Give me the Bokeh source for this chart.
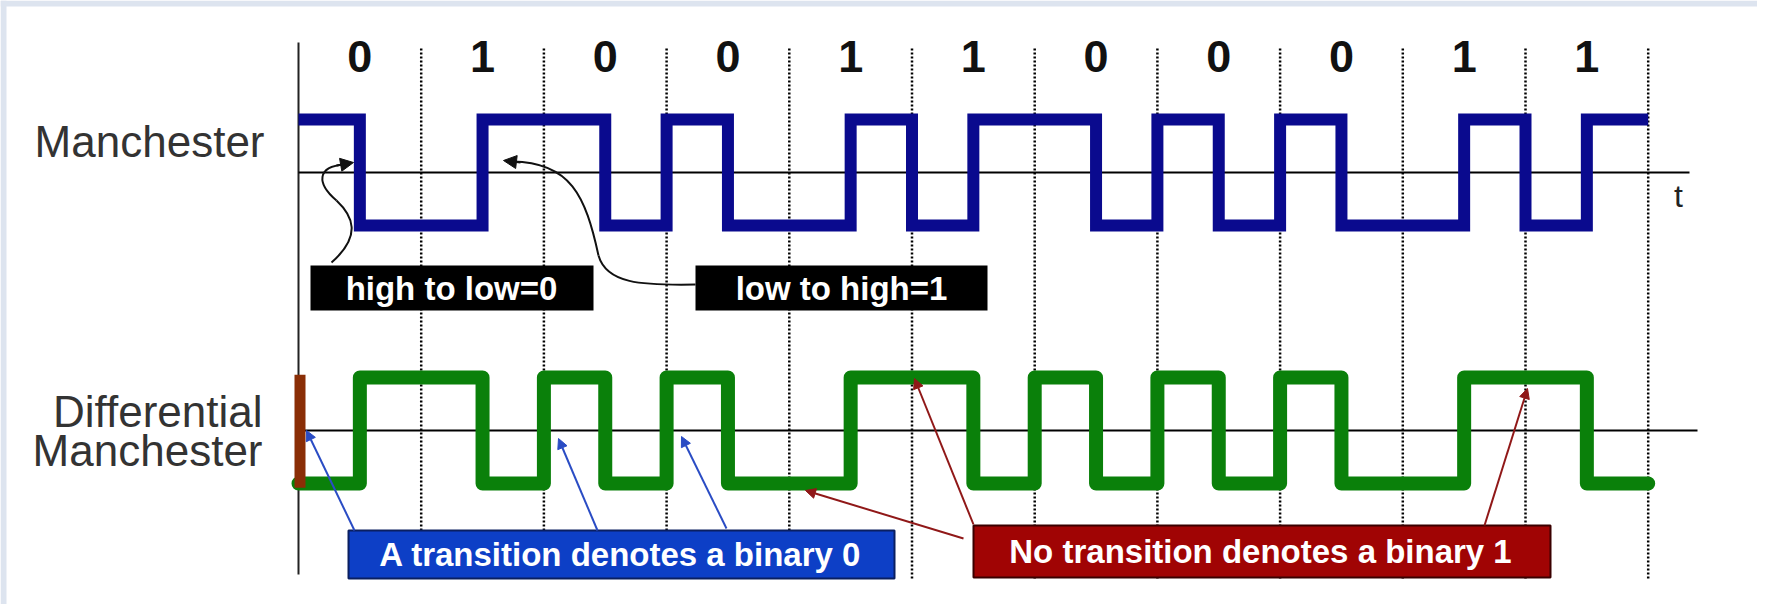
from bokeh.plotting import figure
from bokeh.models import Range1d, Arrow, NormalHead
from bokeh.core.properties import value
from bokeh.embed import file_html
from bokeh.resources import INLINE

# ---------------- data ----------------
bits = [0, 1, 0, 0, 1, 1, 0, 0, 0, 1, 1]
bit_labels = ["0", "1", "0", "0", "1", "1", "0", "0", "0", "1", "1"]
bit_centers = [0.5, 1.5, 2.5, 3.5, 4.5, 5.5, 6.5, 7.5, 8.5, 9.5, 10.5]
bit_boundaries = [1, 2, 3, 4, 5, 6, 7, 8, 9, 10, 11]
half_bit_times = [0, 0.5, 1, 1.5, 2, 2.5, 3, 3.5, 4, 4.5, 5, 5.5, 6, 6.5,
                  7, 7.5, 8, 8.5, 9, 9.5, 10, 10.5, 11]
# signal level in each half bit (1 = high, 0 = low)
manchester_levels = [1, 0, 0, 1, 1, 0, 1, 0, 0, 1, 0, 1,
                     1, 0, 1, 0, 1, 0, 0, 1, 0, 1]
diff_manchester_levels = [0, 1, 1, 0, 1, 0, 1, 0, 0, 1, 1, 0,
                          1, 0, 1, 0, 1, 0, 0, 1, 1, 0]

# ---------------- layout helpers (picture pixels -> data units) ----------------
X0, XU = 298.0, 122.7      # x of t=0 and pixels per bit
Y0, YU = 430.0, 53.0       # y of differential midline and pixels per level unit
def X(px):
    return (px - X0) / XU
def Y(py):
    return (Y0 - py) / YU

MAN_C = Y(172)   # Manchester midline
DIF_C = 0.0      # Differential Manchester midline
AMP = 1.0

FONT = value("Liberation Sans")
W, H = 1757, 604

p = figure(width=W, height=H, output_backend="svg", toolbar_location=None,
           x_range=Range1d(X(0), X(W)), y_range=Range1d(Y(H), Y(0)),
           min_border=0, background_fill_color="white", border_fill_color="white")
p.axis.visible = False
p.grid.visible = False
p.outline_line_color = None

# light frame around the slide
p.quad(left=[X(0), X(0)], right=[X(6), X(W)], top=[Y(0), Y(0)], bottom=[Y(H), Y(6)],
       fill_color="#dde4ef", line_color=None)

# dotted bit boundaries
p.segment(x0=bit_boundaries, y0=[Y(48)] * len(bit_boundaries),
          x1=bit_boundaries, y1=[Y(580)] * len(bit_boundaries),
          line_color="black", line_width=2.5, line_dash="2 2")

# vertical time origin
p.segment(x0=[0], y0=[Y(42)], x1=[0], y1=[Y(574)], line_color="#222222", line_width=2)

# midlines
p.segment(x0=[0, 0], y0=[MAN_C, DIF_C], x1=[X(1689), X(1697)], y1=[MAN_C, DIF_C],
          line_color="black", line_width=2)
p.text(x=[X(1678)], y=[Y(195)], text=["t"], text_font=FONT, text_font_size=value("32px"),
       text_align="center", text_baseline="middle", text_color="#222222")

# signals
man_y = [MAN_C + (2 * l - 1) * AMP for l in manchester_levels + manchester_levels[-1:]]
dif_y = [DIF_C + (2 * l - 1) * AMP for l in diff_manchester_levels + diff_manchester_levels[-1:]]
p.step(x=half_bit_times, y=man_y, mode="after", line_color="#0a0a8e", line_width=12,
       line_join="miter", line_cap="butt")
p.step(x=half_bit_times, y=dif_y, mode="after", line_color="#0a800a", line_width=14,
       line_join="round", line_cap="round")

# initial transition marker for differential manchester
p.quad(left=[X(294)], right=[X(305)], top=[DIF_C + 1.05], bottom=[DIF_C - 1.08],
       fill_color="#8a2e06", line_color=None)

# bit labels
p.text(x=bit_centers, y=[Y(56)] * len(bit_centers), text=bit_labels, text_font=FONT,
       text_font_size=value("45px"), text_font_style="bold", text_align="center",
       text_baseline="middle", text_color="#111111")

# row labels
p.text(x=[X(264)], y=[Y(141)], text=["Manchester"], text_font=FONT,
       text_font_size=value("44px"), text_align="right", text_baseline="middle",
       text_color="#333333")
p.text(x=[X(262), X(262)], y=[Y(411), Y(450)], text=["Differential", "Manchester"],
       text_font=FONT, text_font_size=value("44px"), text_align="right",
       text_baseline="middle", text_color="#333333")

# curved black callout arrows
p.bezier(x0=[X(331), X(336)], y0=[Y(262), Y(200)],
         x1=[X(336), X(344)], y1=[Y(200), Y(164)],
         cx0=[X(362), X(316)], cy0=[Y(235), Y(183)],
         cx1=[X(352), X(316)], cy1=[Y(215), Y(166)],
         line_color="#111111", line_width=2)
p.add_layout(Arrow(end=NormalHead(size=13, fill_color="#111111", line_color="#111111"),
                   x_start=X(336), y_start=Y(165), x_end=X(353), y_end=Y(162),
                   line_color="#111111", line_width=2))
p.bezier(x0=[X(695), X(598)], y0=[Y(284), Y(255)],
         x1=[X(598), X(512)], y1=[Y(255), Y(161)],
         cx0=[X(640), X(585)], cy0=[Y(285), Y(195)],
         cx1=[X(606), X(570)], cy1=[Y(283), Y(162)],
         line_color="#111111", line_width=2)
p.add_layout(Arrow(end=NormalHead(size=13, fill_color="#111111", line_color="#111111"),
                   x_start=X(520), y_start=Y(162), x_end=X(503), y_end=Y(160),
                   line_color="#111111", line_width=2))

# boxes
p.quad(left=[X(310), X(695)], right=[X(593), X(987)], top=[Y(265), Y(265)],
       bottom=[Y(310), Y(310)], fill_color="black", line_color=None)
p.quad(left=[X(348)], right=[X(894)], top=[Y(530)], bottom=[Y(578)],
       fill_color="#0d3fc6", line_color="#0a1f60", line_width=2)
p.quad(left=[X(973)], right=[X(1550)], top=[Y(525)], bottom=[Y(577)],
       fill_color="#a00404", line_color="#3a0000", line_width=2)

p.text(x=[X(451), X(841)], y=[Y(288), Y(288)], text=["high to low=0", "low to high=1"],
       text_font=FONT, text_font_size=value("33px"), text_font_style="bold",
       text_align="center", text_baseline="middle", text_color="white")
p.text(x=[X(620)], y=[Y(554)], text=["A transition denotes a binary 0"],
       text_font=FONT, text_font_size=value("33px"), text_font_style="bold",
       text_align="center", text_baseline="middle", text_color="white")
p.text(x=[X(1260)], y=[Y(551)], text=["No transition denotes a binary 1"],
       text_font=FONT, text_font_size=value("33px"), text_font_style="bold",
       text_align="center", text_baseline="middle", text_color="white")

# thin pointer arrows
blue = "#2a4cc4"
for (xs, ys, xe, ye) in [(354, 530, 306, 430), (597, 530, 558, 438), (726, 528, 681, 436)]:
    p.add_layout(Arrow(end=NormalHead(size=10, fill_color=blue, line_color=blue),
                       x_start=X(xs), y_start=Y(ys), x_end=X(xe), y_end=Y(ye),
                       line_color=blue, line_width=2))
red = "#901818"
for (xs, ys, xe, ye) in [(963, 538, 805, 490), (973, 524, 914, 378), (1484, 525, 1527, 388)]:
    p.add_layout(Arrow(end=NormalHead(size=10, fill_color=red, line_color=red),
                       x_start=X(xs), y_start=Y(ys), x_end=X(xe), y_end=Y(ye),
                       line_color=red, line_width=2))

open("out.html", "w").write(file_html(p, INLINE))
